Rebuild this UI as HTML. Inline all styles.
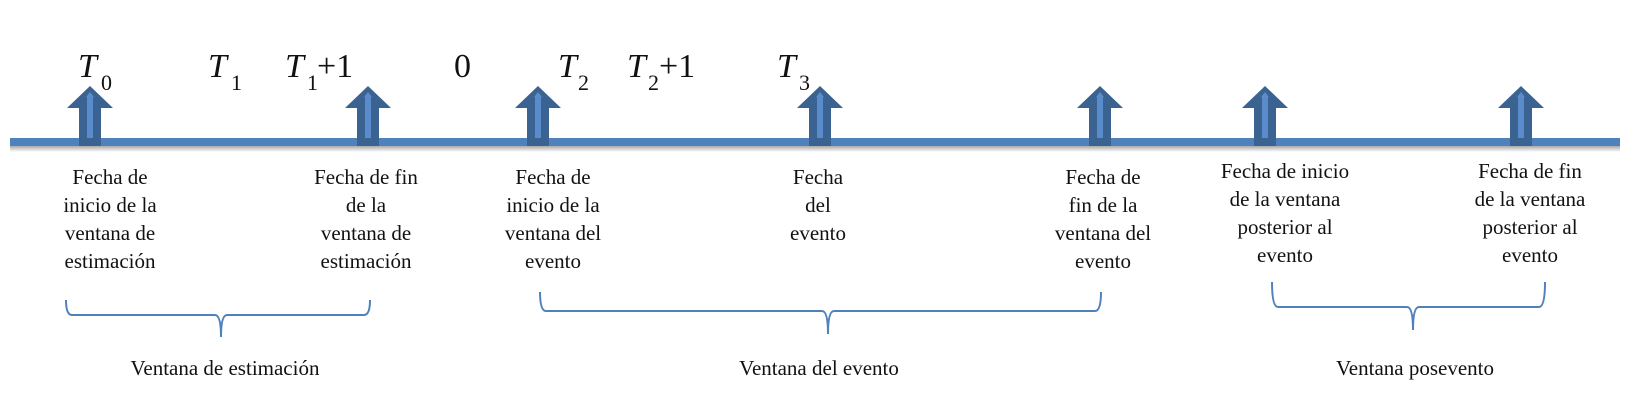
<!DOCTYPE html>
<html><head><meta charset="utf-8"><style>
html,body{margin:0;padding:0;background:#fff;}
svg{display:block;}
text{font-family:"Liberation Serif",serif;fill:#111;}
.l{font-size:21px;text-anchor:middle;}
.t{font-size:34px;font-style:italic;}
.n{font-size:34px;}
.s{font-size:22px;}
</style></head><body>
<svg width="1629" height="414" viewBox="0 0 1629 414" xmlns="http://www.w3.org/2000/svg">
<defs>
<linearGradient id="sh" x1="0" y1="0" x2="0" y2="1"><stop offset="0" stop-color="#9a9a9a"/><stop offset="1" stop-color="#fff"/></linearGradient>
<g id="ar">
<polygon points="0,86 23,108 11,108 11,146 -11,146 -11,108 -23,108" fill="#3b6392"/>
<polygon points="0,92 4,97 3,97 3,138 -3,138 -3,97 -4,97" fill="#5a8ccc"/>
</g>
</defs>
<rect x="10" y="145" width="1610" height="7" fill="url(#sh)"/>
<rect x="10" y="138" width="1610" height="8" fill="#4f81bd"/>
<use href="#ar" x="90"/>
<use href="#ar" x="368"/>
<use href="#ar" x="538"/>
<use href="#ar" x="820"/>
<use href="#ar" x="1100"/>
<use href="#ar" x="1265"/>
<use href="#ar" x="1521"/>

<text class="t" x="78" y="77">T</text><text class="s" x="101" y="90">0</text>
<text class="t" x="208" y="77">T</text><text class="s" x="231" y="90">1</text>
<text class="t" x="285" y="77">T</text><text class="s" x="307" y="90">1</text><text class="n" x="317" y="77">+1</text>
<text class="n" x="454" y="77">0</text>
<text class="t" x="558" y="77">T</text><text class="s" x="578" y="90">2</text>
<text class="t" x="627" y="77">T</text><text class="s" x="648" y="90">2</text><text class="n" x="659" y="77">+1</text>
<text class="t" x="777" y="77">T</text><text class="s" x="799" y="90">3</text>

<text class="l" x="110" y="184">Fecha de</text><text class="l" x="110" y="212">inicio de la</text><text class="l" x="110" y="240">ventana de</text><text class="l" x="110" y="268">estimación</text>
<text class="l" x="366" y="184">Fecha de fin</text><text class="l" x="366" y="212">de la</text><text class="l" x="366" y="240">ventana de</text><text class="l" x="366" y="268">estimación</text>
<text class="l" x="553" y="184">Fecha de</text><text class="l" x="553" y="212">inicio de la</text><text class="l" x="553" y="240">ventana del</text><text class="l" x="553" y="268">evento</text>
<text class="l" x="818" y="184">Fecha</text><text class="l" x="818" y="212">del</text><text class="l" x="818" y="240">evento</text>
<text class="l" x="1103" y="184">Fecha de</text><text class="l" x="1103" y="212">fin de la</text><text class="l" x="1103" y="240">ventana del</text><text class="l" x="1103" y="268">evento</text>
<text class="l" x="1285" y="178">Fecha de inicio</text><text class="l" x="1285" y="206">de la ventana</text><text class="l" x="1285" y="234">posterior al</text><text class="l" x="1285" y="262">evento</text>
<text class="l" x="1530" y="178">Fecha de fin</text><text class="l" x="1530" y="206">de la ventana</text><text class="l" x="1530" y="234">posterior al</text><text class="l" x="1530" y="262">evento</text>

<g fill="none" stroke="#4f81bd" stroke-width="2">
<path d="M66,300 Q66,315 72,315 L215,315 Q221,315 221,337 Q221,315 227,315 L364,315 Q370,315 370,300"/>
<path d="M540,292 Q540,311 546,311 L822,311 Q828,311 828,334 Q828,311 834,311 L1095,311 Q1101,311 1101,292"/>
<path d="M1272,282 Q1272,307 1278,307 L1407,307 Q1413,307 1413,330 Q1413,307 1419,307 L1539,307 Q1545,307 1545,282"/>
</g>

<text class="l" x="225" y="375">Ventana de estimación</text>
<text class="l" x="819" y="375">Ventana del evento</text>
<text class="l" x="1415" y="375">Ventana posevento</text>
</svg>
</body></html>
